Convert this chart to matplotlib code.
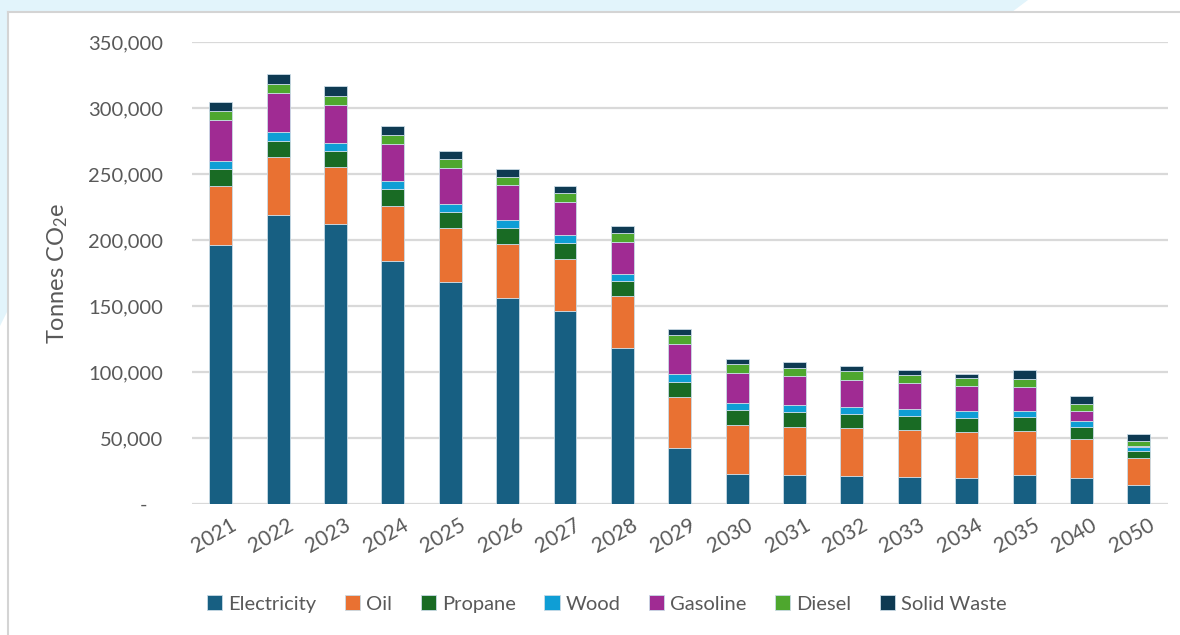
import matplotlib
matplotlib.use("Agg")
import matplotlib.pyplot as plt
from matplotlib.patches import Polygon
from matplotlib.lines import Line2D
from matplotlib.ticker import FuncFormatter, MultipleLocator
import matplotlib.transforms as mtransforms
import numpy as np

# Emissions by source, tonnes CO2e
years = ["2021", "2022", "2023", "2024", "2025", "2026", "2027", "2028", "2029",
         "2030", "2031", "2032", "2033", "2034", "2035", "2040", "2050"]
electricity = [196500, 219200, 212400, 183900, 168000, 156300, 146200, 118400, 42700,
               22500, 22200, 21400, 20700, 19900, 21700, 19900, 14600]
oil = [44200, 43400, 42700, 42100, 41300, 40900, 39600, 39200, 38400,
       37600, 36400, 36200, 35600, 34900, 33800, 29600, 20000]
propane = [12900, 12700, 12100, 12400, 11900, 11700, 11700, 11600, 11100,
           11100, 11100, 10800, 10600, 10600, 10600, 9100, 5800]
wood = [6300, 6300, 6300, 6300, 5900, 6000, 6100, 5300, 6300,
        5500, 5100, 5100, 4800, 4800, 4600, 4300, 2500]
gasoline = [30800, 29800, 29000, 27800, 27200, 26500, 25400, 24200, 23000,
            22800, 22200, 20700, 20200, 19200, 18200, 7600, 1000]
diesel = [7000, 6800, 6800, 6800, 6800, 6300, 6600, 6600, 6500,
          6600, 6000, 6600, 6100, 6100, 5800, 5300, 4100]
solid_waste = [7100, 7600, 7400, 6800, 6600, 6100, 5300, 5500, 4600,
               4000, 4300, 3700, 3500, 3200, 6600, 6000, 4800]

series = [
    ("Electricity", electricity, "#175f82"),
    ("Oil", oil, "#e97132"),
    ("Propane", propane, "#196b24"),
    ("Wood", wood, "#0f9ed5"),
    ("Gasoline", gasoline, "#a02b93"),
    ("Diesel", diesel, "#4ea72e"),
    ("Solid Waste", solid_waste, "#0e3a52"),
]

plt.rcParams["font.family"] = ["Lato", "DejaVu Sans"]
plt.rcParams["mathtext.fontset"] = "custom"
plt.rcParams["mathtext.rm"] = "Lato"
plt.rcParams["mathtext.it"] = "Lato"

W, H = 1180, 635
fig = plt.figure(figsize=(W / 100, H / 100), dpi=100)
fig.patch.set_facecolor("white")

# light blue page decoration behind the chart panel
def px(x, y):
    return (x / W, 1 - y / H)

deco = Polygon([px(0, 0), px(1028, 0), px(1012, 12), px(8, 12), px(8, 310), px(0, 326)],
               closed=True, transform=fig.transFigure, facecolor="#e2f4fb",
               edgecolor="none", zorder=0)
fig.patches.append(deco)
fig.lines.append(Line2D([8 / W, 1], [1 - 12 / H, 1 - 12 / H], transform=fig.transFigure,
                        color="#d4d4d4", linewidth=1.5, zorder=1))
fig.lines.append(Line2D([8 / W, 8 / W], [1 - 12 / H, 0], transform=fig.transFigure,
                        color="#d4d4d4", linewidth=1.5, zorder=1))

ax = fig.add_axes([192 / W, 1 - 504 / H, (1167.5 - 192) / W, (504 - 42) / H])
ax.set_facecolor("none")

x = np.arange(len(years))
bottom = np.zeros(len(years))
for name, vals, color in series:
    vals = np.array(vals, dtype=float)
    ax.bar(x, vals, width=0.4, bottom=bottom, color=color, label=name,
           edgecolor="#c9dbe6", linewidth=0.6, zorder=3)
    bottom += vals

ax.set_xlim(-0.5, len(years) - 0.5)
ax.set_ylim(0, 350000)
ax.yaxis.set_major_locator(MultipleLocator(50000))
ax.yaxis.set_major_formatter(FuncFormatter(lambda v, p: "-   " if v == 0 else f"{v:,.0f}"))
ax.grid(axis="y", color="#d9d9d9", linewidth=1.6, zorder=0)
ax.set_axisbelow(True)
for s in ax.spines.values():
    s.set_visible(False)
ax.tick_params(axis="both", length=0, colors="#595959", labelsize=14.5)
ax.tick_params(axis="y", pad=21)

ax.set_xticks(x)
ax.set_xticklabels(years, rotation=30, ha="right", rotation_mode="anchor", fontsize=15)
offset = mtransforms.ScaledTranslation(0.09, -0.06, fig.dpi_scale_trans)
for lbl in ax.get_xticklabels():
    lbl.set_transform(lbl.get_transform() + offset)

ax.set_ylabel("Tonnes CO$_2$e", fontsize=17, color="#595959")
ax.yaxis.set_label_coords(-0.125, 0.5)

handles, labels = ax.get_legend_handles_labels()
leg = fig.legend(handles, labels, loc="center", bbox_to_anchor=(607 / W, 1 - 604 / H),
                 ncol=7, frameon=False, fontsize=14.5, handlelength=0.75,
                 handleheight=0.75, handletextpad=0.3, columnspacing=1.42)
for t in leg.get_texts():
    t.set_color("#595959")

fig.savefig("out.png", dpi=100, facecolor=fig.get_facecolor())
